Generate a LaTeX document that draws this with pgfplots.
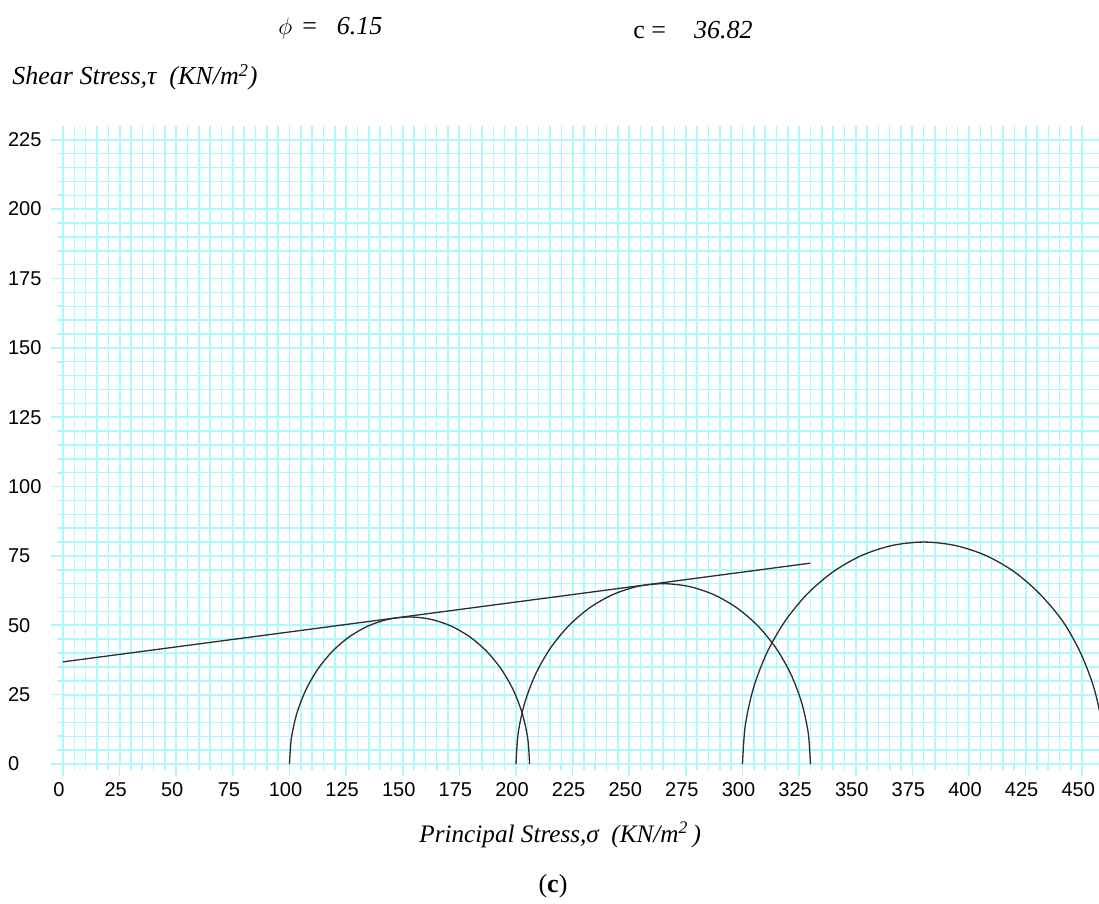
\documentclass[border=0pt]{standalone}
\usepackage{fontspec}
\usepackage{pgfplots}
\pgfplotsset{compat=1.18}
\setmainfont{Liberation Serif}
\newfontfamily\arial{Liberation Sans}
\definecolor{gridc}{RGB}{175,248,252}
\definecolor{curve}{RGB}{45,45,45}
\begin{document}
\begin{tikzpicture}
\useasboundingbox (0,0) rectangle (549.5pt,-452pt);
\begin{axis}[
  at={(31.5pt,-382pt)}, anchor=south west,
  scale only axis, width=518pt, height=318.9pt,
  xmin=0, xmax=457.4, ymin=0, ymax=229.9,
  xtick={0,25,...,450}, ytick={0,25,...,225},
  minor tick num=4,
  grid=both,
  major grid style={draw=gridc, line width=0.9pt},
  minor grid style={draw=gridc, line width=0.75pt},
  axis line style={draw=none},
  xtick pos=bottom, ytick pos=left,
  tick align=outside,
  major tick length=6pt, minor tick length=3pt,
  tick style={draw=gridc, line width=0.8pt},
  /pgf/number format/assume math mode=true,
  typeset ticklabels with strut,
  tick label style={font=\arial\fontsize{10}{12}\selectfont},
  xticklabel style={xshift=-2pt, yshift=1.5pt},
  yticklabel style={anchor=west, xshift=-25pt, yshift=-1pt},
  clip=true,
]
\addplot[curve, line width=0.65pt] coordinates {(0,36.82) (330,72.4)};
\addplot[curve, line width=0.65pt, smooth] coordinates {
(100,0)(100.81,9.20)(103.20,18.13)(107.10,26.5)(112.40,34.07)(118.93,40.60)(126.5,45.90)(134.87,49.80)(143.80,52.19)(153,53)(162.20,52.19)(171.13,49.80)(179.5,45.90)(187.07,40.60)(193.60,34.07)(198.90,26.5)(202.80,18.13)(205.19,9.20)(206,0)};
\addplot[curve, line width=0.65pt, smooth] coordinates {
(200,0)(200.99,11.28)(203.92,22.23)(208.71,32.5)(215.21,41.78)(223.22,49.79)(232.5,56.29)(242.77,61.08)(253.72,64.01)(265,65)(276.28,64.01)(287.23,61.08)(297.5,56.29)(306.78,49.79)(314.79,41.78)(321.29,32.5)(326.08,22.23)(329.01,11.28)(330,0)};
\addplot[curve, line width=0.65pt, smooth] coordinates {
(300,0)(301.22,13.89)(304.82,27.36)(310.72,40)(318.72,51.42)(328.58,61.28)(340,69.28)(352.64,75.18)(366.11,78.78)(380,80)(393.89,78.78)(407.36,75.18)(420,69.28)(431.28,61.28)(441.42,51.42)(449.28,40)(455.18,27.36)(458.78,13.89)(460,0)};
\end{axis}
\fontsize{13}{15}\selectfont
\node[anchor=base west, inner sep=0] at (139pt,-17.5pt) {$\phi$\hspace{5pt}=\hspace{10pt}\textit{6.15}};
\node[anchor=base west, inner sep=0] at (316.5pt,-19.5pt) {c =\hspace{14pt}\textit{36.82}};
\node[anchor=base west, inner sep=0] at (6pt,-42.5pt) {\textit{Shear Stress,τ\ \ (KN/m\textsuperscript{2})}};
\node[anchor=base west, inner sep=0, font=\fontsize{12.6}{15}\selectfont] at (209.5pt,-421pt) {\textit{Principal Stress,σ\ \ (KN/m\textsuperscript{2}\,)}};
\node[anchor=base, inner sep=0] at (276.5pt,-446pt) {(\textbf{c})};
\end{tikzpicture}
\end{document}
